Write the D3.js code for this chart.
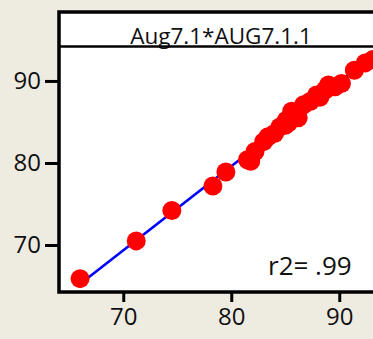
<!DOCTYPE html>
<html>
<head>
<meta charset="utf-8">
<script src="https://cdn.jsdelivr.net/npm/d3@7"></script>
<style>
  html, body { margin: 0; padding: 0; background: #eeebe1; }
  svg { display: block; }
  text { font-family: "Open Sans", "Noto Sans", sans-serif; fill: #111; }
</style>
</head>
<body>
<svg id="chart" width="373" height="339"></svg>
<script>
// Paired observations: Aug7.1 (x) against AUG7.1.1 (y)
const xValues = [66.0, 71.2, 74.5, 78.3, 79.5, 81.5, 81.8, 82.2, 83.0, 83.4, 84.0, 84.5, 85.0, 85.1, 85.3,
                 85.6, 86.0, 86.2, 86.7, 87.3, 87.9, 88.2, 88.7, 89.0, 89.6, 90.2, 91.4, 92.4, 93.1];
const yValues = [65.9, 70.5, 74.2, 77.2, 78.9, 80.4, 80.2, 81.4, 82.6, 83.2, 83.6, 84.4, 84.6, 85.2, 84.9,
                 86.3, 86.0, 85.5, 87.1, 87.5, 88.3, 88.0, 88.9, 89.5, 89.3, 89.7, 91.3, 92.2, 92.6];
const xTicks = [70, 80, 90];
const yTicks = [70, 80, 90];
const titleText = "Aug7.1*AUG7.1.1";
const r2Label = "r2= .99";

const svg = d3.select("#chart");

// Frame geometry (the panel runs past the right edge of the window)
const frameLeft = 59, frameRight = 383, frameTop = 12, headerY = 46.5, frameBottom = 292;

const x = d3.scaleLinear().domain([64.05, 94.05]).range([frameLeft, frameRight]);
const y = d3.scaleLinear().domain([64.27, 94.2]).range([frameBottom, headerY]);

// Panel background
svg.append("rect")
  .attr("x", frameLeft).attr("y", frameTop)
  .attr("width", frameRight - frameLeft).attr("height", frameBottom - frameTop)
  .attr("fill", "#fff");

// Least-squares fit line
const pts = xValues.map((v, i) => [v, yValues[i]]);
const mx = d3.mean(xValues), my = d3.mean(yValues);
const slope = d3.sum(pts, p => (p[0] - mx) * (p[1] - my)) / d3.sum(pts, p => (p[0] - mx) ** 2);
const intercept = my - slope * mx;
const [x0, x1] = d3.extent(xValues);

const plot = svg.append("g");
plot.append("line")
  .attr("x1", x(x0)).attr("y1", y(intercept + slope * x0))
  .attr("x2", x(x1)).attr("y2", y(intercept + slope * x1))
  .attr("stroke", "#0000ff").attr("stroke-width", 2.6);

plot.selectAll("circle")
  .data(pts)
  .join("circle")
  .attr("cx", d => x(d[0]))
  .attr("cy", d => y(d[1]))
  .attr("r", 9.5)
  .attr("fill", "#ff0000");

// Title strip
svg.append("text")
  .attr("x", (frameLeft + frameRight) / 2).attr("y", 44)
  .attr("text-anchor", "middle")
  .attr("font-size", 22.5)
  .text(titleText);

svg.append("line")
  .attr("x1", frameLeft).attr("x2", frameRight)
  .attr("y1", headerY).attr("y2", headerY)
  .attr("stroke", "#000").attr("stroke-width", 2.6);

// Panel border
svg.append("rect")
  .attr("x", frameLeft).attr("y", frameTop)
  .attr("width", frameRight - frameLeft).attr("height", frameBottom - frameTop)
  .attr("fill", "none").attr("stroke", "#000").attr("stroke-width", 3.5);

// Axes
const xAxis = d3.axisBottom(x).tickValues(xTicks).tickSize(9).tickPadding(6).tickSizeOuter(0);
const gx = svg.append("g").attr("transform", `translate(0,${frameBottom + 1})`).call(xAxis);
gx.select(".domain").remove();
gx.selectAll(".tick line").attr("stroke", "#000").attr("stroke-width", 3);
gx.selectAll(".tick text").attr("font-size", 24).attr("font-family", "Open Sans").attr("fill", "#111");

const yAxis = d3.axisLeft(y).tickValues(yTicks).tickSize(14).tickPadding(4).tickSizeOuter(0);
const gy = svg.append("g").attr("transform", `translate(${frameLeft},0)`).call(yAxis);
gy.select(".domain").remove();
gy.selectAll(".tick line").attr("stroke", "#000").attr("stroke-width", 3);
gy.selectAll(".tick text").attr("font-size", 24).attr("font-family", "Open Sans").attr("fill", "#111");

// Goodness-of-fit annotation
svg.append("text")
  .attr("x", 268).attr("y", 275)
  .attr("font-size", 26)
  .text(r2Label);
</script>
</body>
</html>
